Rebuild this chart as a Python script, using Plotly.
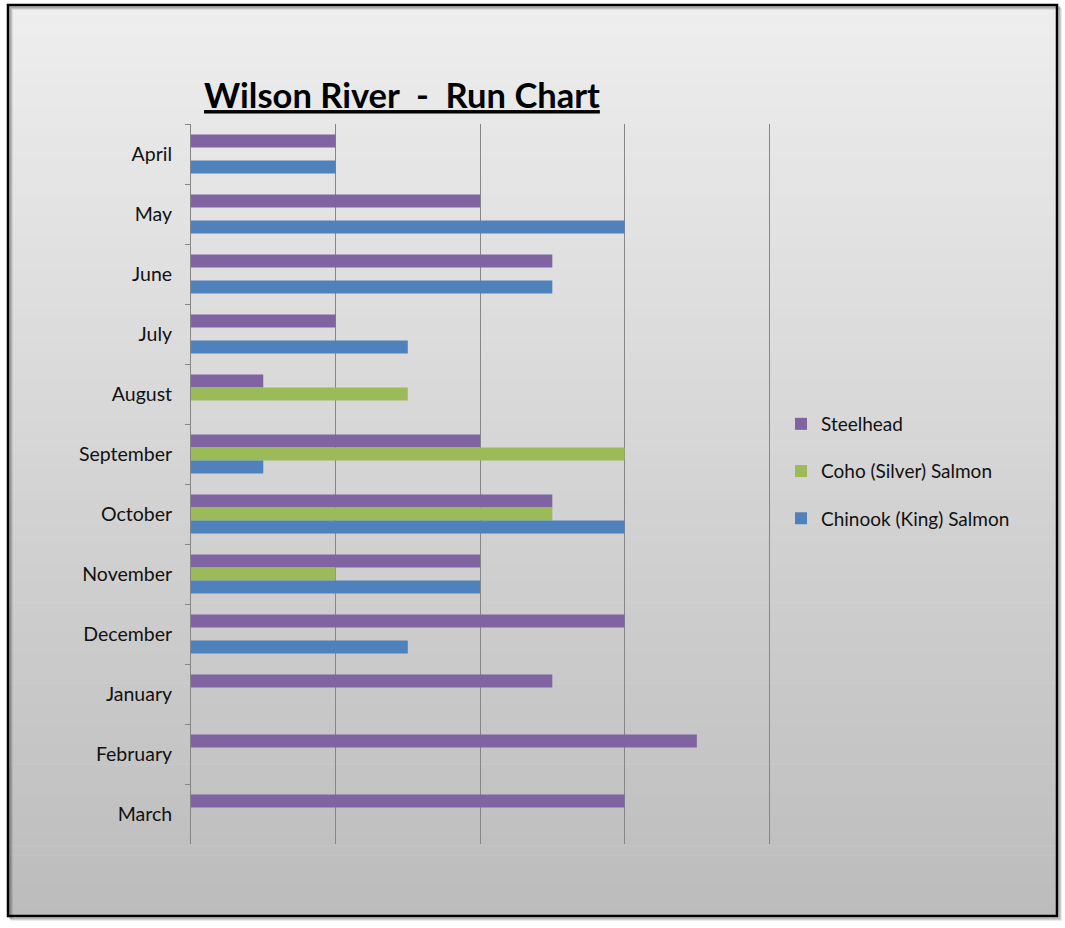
import plotly.graph_objects as go

months = ["April", "May", "June", "July", "August", "September", "October",
          "November", "December", "January", "February", "March"]
steelhead = [2, 4, 5, 2, 1, 4, 5, 4, 6, 5, 7, 6]
coho = [None, None, None, None, 3, 6, 5, 2, None, None, None, None]
chinook = [2, 6, 5, 3, None, 1, 6, 4, 3, None, None, None]

series_names = ["Steelhead", "Coho (Silver) Salmon", "Chinook (King) Salmon"]
series_colors = ["#8064A2", "#9BBB59", "#4F81BD"]

W, H = 1065, 928
L, R, T, B = 191, 772, 124, 844

fig = go.Figure()
for name, vals, col in zip(series_names, [steelhead, coho, chinook], series_colors):
    fig.add_trace(go.Bar(
        y=months, x=vals, name=name, orientation="h",
        marker=dict(color=col, line=dict(width=0)),
        legendgroup=name,
    ))

# gradient background via strips
shapes = []
x0p, x1p, y0p, y1p = 8, 1057, 5, 916
n = 90
top_c, bot_c = 238, 188
for i in range(n):
    ya = y0p + (y1p - y0p) * i / n
    yb = y0p + (y1p - y0p) * (i + 1) / n + 0.6
    c = round(top_c + (bot_c - top_c) * (i + 0.5) / n)
    shapes.append(dict(type="rect", xref="paper", yref="paper",
                       x0=(x0p - L) / (R - L), x1=(x1p - L) / (R - L),
                       y0=(B - yb) / (B - T), y1=(B - ya) / (B - T),
                       fillcolor=f"rgb({c},{c},{c})", line=dict(width=0),
                       layer="below"))
# shadow
for k, op in [(4, 0.08), (3, 0.12), (2, 0.18)]:
    shapes.append(dict(type="rect", xref="paper", yref="paper",
                       x0=(x0p + k - L) / (R - L), x1=(x1p + k - L) / (R - L),
                       y0=(B - (y1p + k)) / (B - T), y1=(B - (y0p + k)) / (B - T),
                       fillcolor="rgba(0,0,0,0)", line=dict(width=2, color=f"rgba(0,0,0,{op})"),
                       layer="below"))
# border
shapes.append(dict(type="rect", xref="paper", yref="paper",
                   x0=(x0p - L) / (R - L), x1=(x1p - L) / (R - L),
                   y0=(B - y1p) / (B - T), y1=(B - y0p) / (B - T),
                   fillcolor="rgba(0,0,0,0)", line=dict(width=2.5, color="black"),
                   layer="below"))

fig.update_layout(
    width=W, height=H,
    margin=dict(l=L, r=W - R, t=T, b=H - B, autoexpand=False),
    paper_bgcolor="white",
    plot_bgcolor="rgba(0,0,0,0)",
    barmode="group", bargap=0.35, bargroupgap=0,
    font=dict(family="Lato, 'Open Sans', sans-serif", color="#111111"),
    title=dict(text="<b><u>Wilson River\u00a0\u00a0-\u00a0\u00a0Run Chart</u></b>",
               font=dict(size=34.5, color="black", family="Lato, sans-serif"),
               x=204 / W, xanchor="left", y=1 - 96 / H, yanchor="middle"),
    xaxis=dict(range=[0, 8.04], dtick=2, showticklabels=False, showgrid=True,
               gridcolor="#868686", gridwidth=1, zeroline=False, showline=False,
               ticks=""),
    yaxis=dict(autorange="reversed", showline=True, linecolor="#868686", linewidth=1,
               ticks="outside", tickson="boundaries", ticklen=5, tickcolor="#868686",
               tickfont=dict(size=19.5, color="#111111"), ticklabelstandoff=14,
               showgrid=False),
    legend=dict(x=(781 - L) / (R - L), xanchor="left", y=(B - 405) / (B - T), yanchor="top",
                traceorder="grouped", tracegroupgap=19.5, bgcolor="rgba(0,0,0,0)",
                font=dict(size=19, color="#111111")),
    shapes=shapes,
)

fig.write_html("out.html")
